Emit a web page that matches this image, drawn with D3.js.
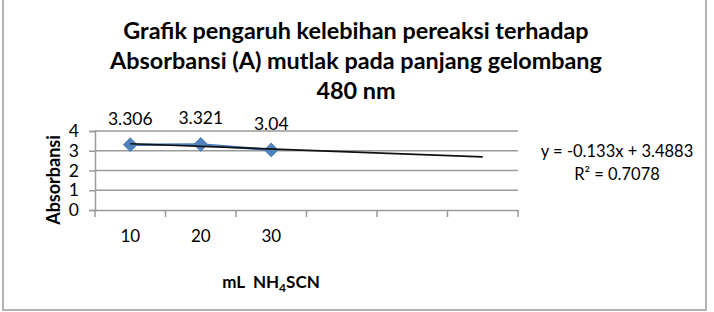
<!DOCTYPE html>
<html>
<head>
  <script src="https://d3js.org/d3.v7.min.js"></script>
  <style>
    body { margin: 0; background: #fff; }
    text { font-family: Lato, "Open Sans", sans-serif; fill: #000; }
  </style>
</head>
<body>
  <div id="chart"></div>
  <script>
    // data
    var categories = ['10', '20', '30', '', '', ''];
    var absorbansi = [3.306, 3.321, 3.04];
    var yTicks = [0, 1, 2, 3, 4];
    var titleLines = ['Grafik pengaruh kelebihan pereaksi terhadap',
                      'Absorbansi (A) mutlak pada panjang gelombang',
                      '480 nm'];
    var trendSlope = -0.133, trendIntercept = 3.4883;
    var trendText = ['y = -0.133x + 3.4883', 'R² = 0.7078'];

    var W = 714, H = 312;
    var plot = {left: 95, right: 518, top: 131, bottom: 210};

    var svg = d3.select('#chart').append('svg')
        .attr('width', W).attr('height', H);

    // outer frame
    svg.append('rect')
        .attr('x', 3).attr('y', -5)
        .attr('width', 703).attr('height', 315)
        .attr('fill', '#fff')
        .attr('stroke', '#b3b3b3').attr('stroke-width', 2);

    var x = d3.scaleBand()
        .domain(d3.range(categories.length))
        .range([plot.left, plot.right]);
    var y = d3.scaleLinear().domain([0, 4]).range([plot.bottom, plot.top]);

    // title
    svg.append('g').selectAll('text')
        .data(titleLines).enter().append('text')
        .attr('x', 356)
        .attr('y', function(d, i) { return 39 + i * 30; })
        .attr('text-anchor', 'middle')
        .style('font-size', '23.4px')
        .style('font-weight', 'bold')
        .text(function(d) { return d; });

    // gridlines
    svg.append('g').selectAll('line')
        .data(yTicks.filter(function(d) { return d > 0; })).enter().append('line')
        .attr('x1', plot.left).attr('x2', plot.right)
        .attr('y1', function(d) { return y(d); })
        .attr('y2', function(d) { return y(d); })
        .attr('stroke', '#9a9a9a').attr('stroke-width', 1.5);

    // y axis
    var yAxis = svg.append('g')
        .attr('transform', 'translate(' + plot.left + ',0)')
        .call(d3.axisLeft(y).tickValues(yTicks).tickSize(6).tickPadding(10).tickFormat(d3.format('d')));
    yAxis.selectAll('line, path').attr('stroke', '#9a9a9a').attr('stroke-width', 1.5);
    yAxis.selectAll('text').style('font-size', '17.5px').style('font-family', 'Lato, sans-serif').attr('fill', '#000');

    // x axis
    var xAxis = svg.append('g')
        .attr('transform', 'translate(0,' + plot.bottom + ')')
        .call(d3.axisBottom(x).tickSize(0).tickPadding(20)
              .tickFormat(function(i) { return categories[i]; }));
    xAxis.select('path').attr('stroke', '#9a9a9a').attr('stroke-width', 1.5);
    xAxis.selectAll('text').style('font-size', '17px').style('font-family', 'Lato, sans-serif').attr('fill', '#000');
    // category boundary ticks
    xAxis.selectAll('.bound')
        .data(d3.range(categories.length + 1)).enter().append('line')
        .attr('class', 'bound')
        .attr('x1', function(i) { return plot.left + i * x.step(); })
        .attr('x2', function(i) { return plot.left + i * x.step(); })
        .attr('y1', 0).attr('y2', 7)
        .attr('stroke', '#9a9a9a').attr('stroke-width', 1.5);

    function cx(i) { return x(i) + x.bandwidth() / 2; }

    // series line
    var line = d3.line()
        .x(function(d, i) { return cx(i); })
        .y(function(d) { return y(d); });
    svg.append('path')
        .datum(absorbansi)
        .attr('d', line)
        .attr('fill', 'none')
        .attr('stroke', '#4a7ebb').attr('stroke-width', 2.5);

    // markers
    svg.append('g').selectAll('path')
        .data(absorbansi).enter().append('path')
        .attr('d', d3.symbol().type(d3.symbolDiamond2).size(120))
        .attr('transform', function(d, i) { return 'translate(' + cx(i) + ',' + y(d) + ')'; })
        .attr('fill', '#4f81bd').attr('stroke', '#4a7ebb');

    // linear trendline over category index 1..6
    var trendPts = [1, categories.length];
    svg.append('line')
        .attr('x1', cx(trendPts[0] - 1)).attr('y1', y(trendSlope * trendPts[0] + trendIntercept))
        .attr('x2', cx(trendPts[1] - 1)).attr('y2', y(trendSlope * trendPts[1] + trendIntercept))
        .attr('stroke', '#111').attr('stroke-width', 1.6);

    // data labels
    svg.append('g').selectAll('text')
        .data(absorbansi).enter().append('text')
        .attr('x', function(d, i) { return cx(i); })
        .attr('y', function(d) { return y(d) - 20; })
        .attr('text-anchor', 'middle')
        .style('font-size', '17.5px')
        .text(function(d) { return String(d); });

    // axis titles
    svg.append('text')
        .attr('transform', 'translate(60,180) rotate(-90)')
        .attr('text-anchor', 'middle')
        .style('font-size', '18px').style('font-weight', 'bold')
        .text('Absorbansi');

    var xt = svg.append('text')
        .attr('x', 271).attr('y', 288)
        .attr('text-anchor', 'middle')
        .style('white-space', 'pre')
        .style('font-size', '17px').style('font-weight', 'bold');
    xt.append('tspan').text('mL  NH');
    xt.append('tspan').attr('dy', 4).style('font-size', '12px').text('4');
    xt.append('tspan').attr('dy', -4).text('SCN');

    // trendline equation
    svg.append('g').selectAll('text')
        .data(trendText).enter().append('text')
        .attr('x', 617)
        .attr('y', function(d, i) { return 157 + i * 23; })
        .attr('text-anchor', 'middle')
        .style('font-size', '16.5px')
        .text(function(d) { return d; });
  </script>
</body>
</html>
